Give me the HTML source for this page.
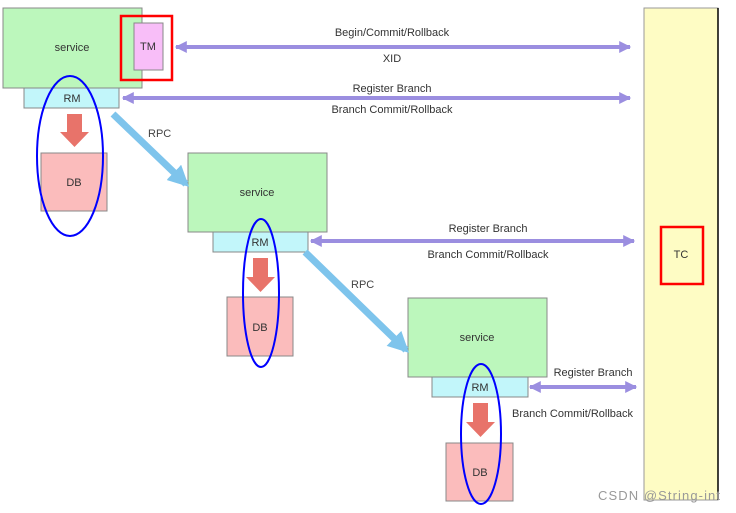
<!DOCTYPE html>
<html><head><meta charset="utf-8"><style>
html,body{margin:0;padding:0;background:#fff;}
svg{display:block;font-family:"Liberation Sans",Arial,sans-serif;}
</style></head><body>
<svg width="736" height="513" viewBox="0 0 736 513" xmlns="http://www.w3.org/2000/svg">
<defs>
<marker id="pa" viewBox="0 0 10 10" refX="9" refY="5" markerWidth="4" markerHeight="3" orient="auto-start-reverse"><path d="M0,0 L10,5 L0,10 z" fill="#9b8ee0"/></marker>
<marker id="ba" viewBox="0 0 10 10" refX="8" refY="5" markerWidth="3" markerHeight="3" orient="auto"><path d="M0,0 L10,5 L0,10 z" fill="#7ec4ec"/></marker>
</defs>
<rect x="644" y="8" width="74" height="492" fill="#fefcc4" stroke="#999" stroke-width="1"/>
<line x1="718" y1="8" x2="718" y2="500" stroke="#000" stroke-width="1.5"/>
<rect x="661" y="227" width="42" height="57" fill="none" stroke="#f00" stroke-width="2.5"/>
<text x="681" y="258" font-size="11" text-anchor="middle" fill="#333">TC</text>

<rect x="3" y="8" width="139" height="80" fill="#bcf7bc" stroke="#888"/>
<text x="72" y="51" font-size="11" text-anchor="middle" fill="#333">service</text>
<rect x="134" y="23" width="29" height="47" fill="#f8bef8" stroke="#888"/>
<text x="148" y="50" font-size="11" text-anchor="middle" fill="#333">TM</text>
<rect x="121" y="16" width="51" height="64" fill="none" stroke="#f00" stroke-width="2.5"/>
<rect x="24" y="88" width="95" height="20" fill="#c2f6fa" stroke="#888"/>
<text x="72" y="102" font-size="11" text-anchor="middle" fill="#333">RM</text>
<path d="M67,114 H82 V132 H89 L74.5,147 L60,132 H67 Z" fill="#e8736a"/>
<rect x="41" y="153" width="66" height="58" fill="#fbbcbc" stroke="#888"/>
<text x="74" y="186" font-size="11" text-anchor="middle" fill="#333">DB</text>
<ellipse cx="70" cy="156" rx="33" ry="80" fill="none" stroke="#00f" stroke-width="2"/>

<rect x="188" y="153" width="139" height="79" fill="#bcf7bc" stroke="#888"/>
<text x="257" y="196" font-size="11" text-anchor="middle" fill="#333">service</text>
<rect x="213" y="232" width="95" height="20" fill="#c2f6fa" stroke="#888"/>
<text x="260" y="246" font-size="11" text-anchor="middle" fill="#333">RM</text>
<path d="M253,258 H268 V277 H275 L260.5,292 L246,277 H253 Z" fill="#e8736a"/>
<rect x="227" y="297" width="66" height="59" fill="#fbbcbc" stroke="#888"/>
<text x="260" y="331" font-size="11" text-anchor="middle" fill="#333">DB</text>
<ellipse cx="261" cy="293" rx="18" ry="74" fill="none" stroke="#00f" stroke-width="2"/>

<rect x="408" y="298" width="139" height="79" fill="#bcf7bc" stroke="#888"/>
<text x="477" y="341" font-size="11" text-anchor="middle" fill="#333">service</text>
<rect x="432" y="377" width="96" height="20" fill="#c2f6fa" stroke="#888"/>
<text x="480" y="391" font-size="11" text-anchor="middle" fill="#333">RM</text>
<path d="M473,403 H488 V422 H495 L480.5,437 L466,422 H473 Z" fill="#e8736a"/>
<rect x="446" y="443" width="67" height="58" fill="#fbbcbc" stroke="#888"/>
<text x="480" y="476" font-size="11" text-anchor="middle" fill="#333">DB</text>
<ellipse cx="481" cy="434" rx="20" ry="70" fill="none" stroke="#00f" stroke-width="2"/>

<line x1="113" y1="114" x2="186" y2="184" stroke="#7ec4ec" stroke-width="7" marker-end="url(#ba)"/>
<text x="148" y="137" font-size="11" fill="#444">RPC</text>
<line x1="305" y1="252" x2="406" y2="350" stroke="#7ec4ec" stroke-width="7" marker-end="url(#ba)"/>
<text x="351" y="288" font-size="11" fill="#444">RPC</text>

<line x1="176" y1="47" x2="630" y2="47" stroke="#9b8ee0" stroke-width="4" marker-start="url(#pa)" marker-end="url(#pa)"/>
<text x="392" y="36" font-size="11" text-anchor="middle" fill="#333">Begin/Commit/Rollback</text>
<text x="392" y="62" font-size="11" text-anchor="middle" fill="#333">XID</text>
<line x1="123" y1="98" x2="630" y2="98" stroke="#9b8ee0" stroke-width="4" marker-start="url(#pa)" marker-end="url(#pa)"/>
<text x="392" y="92" font-size="11" text-anchor="middle" fill="#333">Register Branch</text>
<text x="392" y="113" font-size="11" text-anchor="middle" fill="#333">Branch Commit/Rollback</text>
<line x1="311" y1="241" x2="634" y2="241" stroke="#9b8ee0" stroke-width="4" marker-start="url(#pa)" marker-end="url(#pa)"/>
<text x="488" y="232" font-size="11" text-anchor="middle" fill="#333">Register Branch</text>
<text x="488" y="258" font-size="11" text-anchor="middle" fill="#333">Branch Commit/Rollback</text>
<line x1="530" y1="387" x2="636" y2="387" stroke="#9b8ee0" stroke-width="4" marker-start="url(#pa)" marker-end="url(#pa)"/>
<text x="593" y="376" font-size="11" text-anchor="middle" fill="#333">Register Branch</text>
<text x="512" y="417" font-size="11" fill="#333">Branch Commit/Rollback</text>

<text x="598" y="500" font-size="13" fill="#999" textLength="122">CSDN @String-int</text>
</svg>
</body></html>
